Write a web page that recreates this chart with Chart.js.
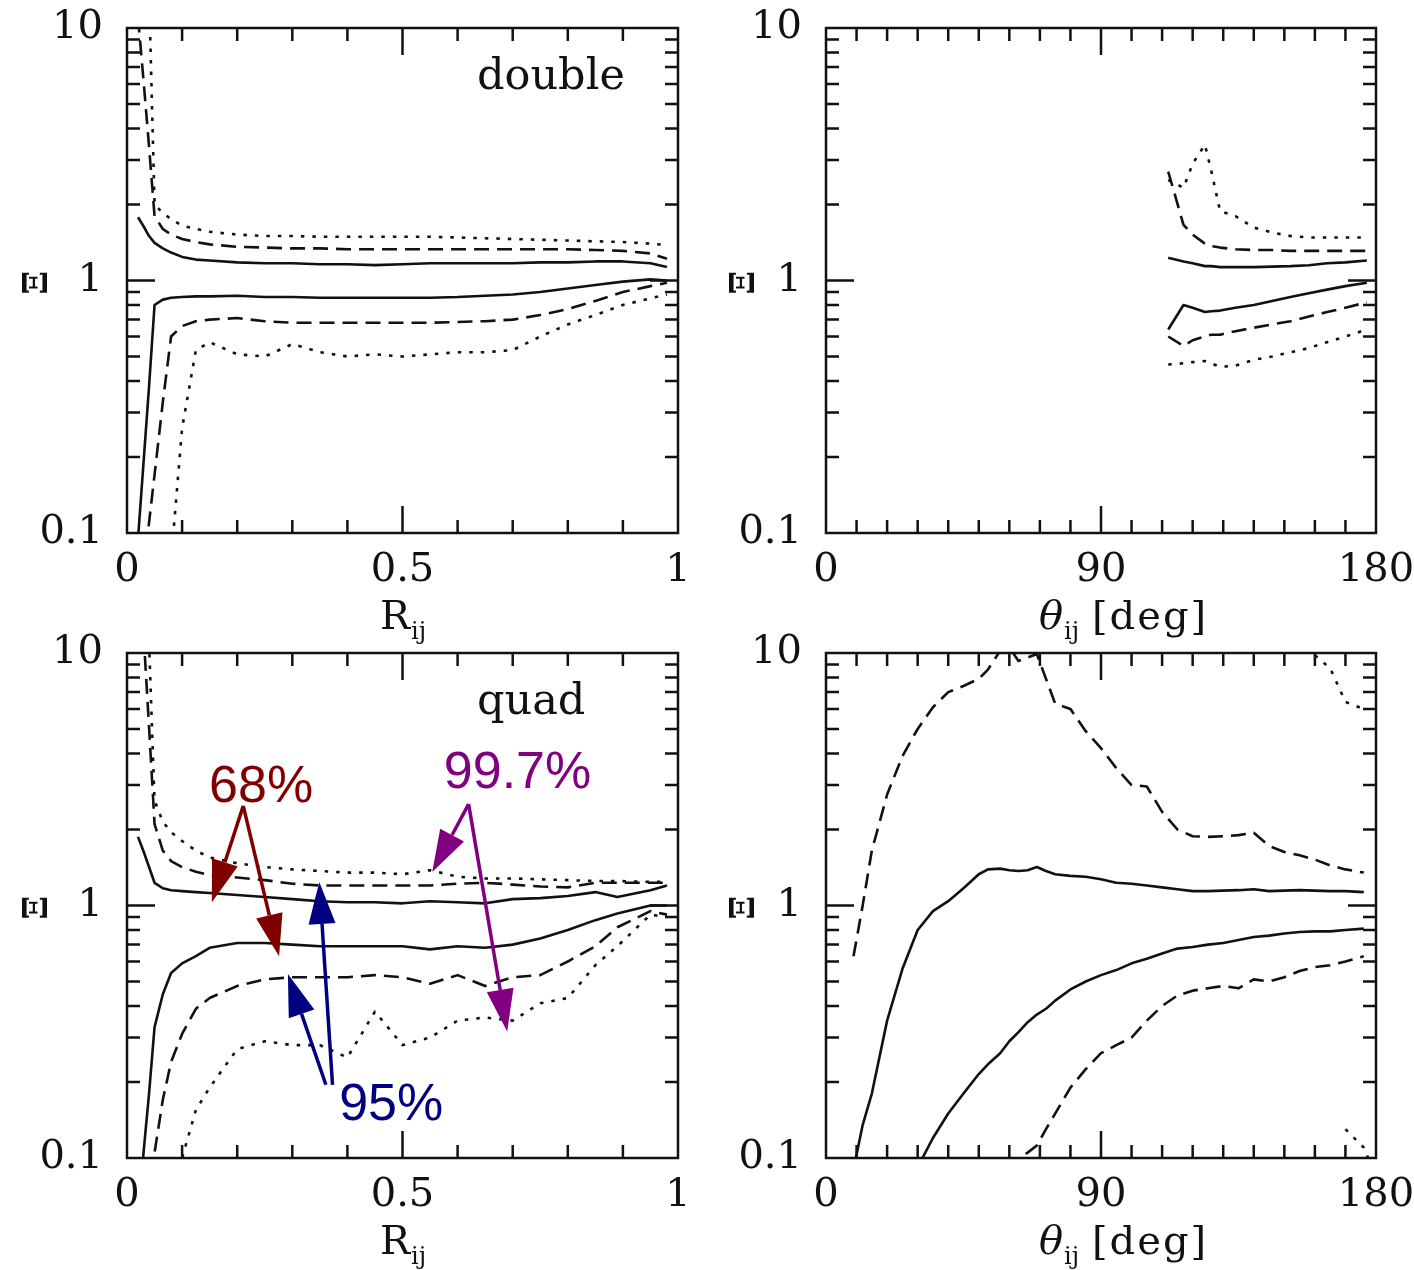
<!DOCTYPE html>
<html>
<head>
<meta charset="utf-8">
<script src="https://cdn.jsdelivr.net/npm/chart.js@4.4.0/dist/chart.umd.min.js"></script>
<style>
	body { margin: 0; background: #fff; width: 1414px; height: 1270px; position: relative; overflow: hidden; }
	canvas { position: absolute; }
</style>
</head>
<body>
<canvas id="duploR" width="707" height="660" style="left:0;top:0"></canvas>
<canvas id="duploT" width="707" height="660" style="left:707px;top:0"></canvas>
<canvas id="quadR" width="707" height="650" style="left:0;top:620px"></canvas>
<canvas id="quadT" width="707" height="650" style="left:707px;top:620px"></canvas>
<script>
// eixos x de cada painel
const rDouble = [0.02, 0.03, 0.04, 0.05, 0.065, 0.08, 0.1, 0.125, 0.15, 0.2, 0.25, 0.3, 0.35, 0.4, 0.45, 0.5, 0.55, 0.6, 0.65, 0.7, 0.75, 0.8, 0.85, 0.9, 0.95, 0.98];
const thDouble = [112, 117, 120, 124, 126, 129, 134, 140, 146, 152, 158, 164, 170, 177];
const rQuad = [0.02, 0.03, 0.04, 0.05, 0.065, 0.08, 0.1, 0.125, 0.15, 0.2, 0.25, 0.3, 0.35, 0.4, 0.45, 0.5, 0.55, 0.6, 0.65, 0.7, 0.75, 0.8, 0.85, 0.89, 0.95, 0.98];
const thQuad = [9, 12, 15, 20, 25, 30, 35, 40, 45, 50, 53, 57, 60, 63, 66, 69, 72, 75, 80, 85, 90, 95, 100, 105, 110, 115, 120, 125, 130, 135, 140, 145, 150, 155, 160, 165, 170, 176, 179];
const thQuad997hi = [155, 160, 165, 170, 176];
const thQuad997lo = [170, 176, 179];

// double, R_ij
const doubleR68hi = [1.78, 1.64, 1.5, 1.41, 1.34, 1.29, 1.24, 1.21, 1.2, 1.18, 1.17, 1.17, 1.16, 1.16, 1.15, 1.16, 1.17, 1.17, 1.17, 1.17, 1.18, 1.18, 1.19, 1.19, 1.17, 1.13];
const doubleR68lo = [0.095, 0.19, 0.38, 0.8, 0.84, 0.855, 0.86, 0.865, 0.865, 0.87, 0.86, 0.86, 0.855, 0.855, 0.855, 0.855, 0.855, 0.86, 0.87, 0.88, 0.9, 0.93, 0.96, 0.99, 1.01, 1.0];
const doubleR95hi = [11, 6.2, 3.4, 1.8, 1.6, 1.52, 1.46, 1.42, 1.39, 1.36, 1.35, 1.34, 1.34, 1.33, 1.33, 1.33, 1.33, 1.33, 1.33, 1.33, 1.33, 1.33, 1.32, 1.31, 1.28, 1.22];
const doubleR95lo = [null, 0.07, 0.11, 0.17, 0.33, 0.6, 0.66, 0.69, 0.7, 0.71, 0.69, 0.68, 0.68, 0.68, 0.68, 0.68, 0.68, 0.685, 0.69, 0.7, 0.73, 0.77, 0.83, 0.9, 0.95, 0.98];
const doubleR997hi = [null, null, 14, 2.0, 1.85, 1.75, 1.65, 1.6, 1.56, 1.52, 1.5, 1.5, 1.49, 1.49, 1.49, 1.49, 1.49, 1.48, 1.47, 1.46, 1.45, 1.44, 1.43, 1.42, 1.4, 1.38];
const doubleR997lo = [null, null, null, null, null, 0.078, 0.26, 0.53, 0.57, 0.51, 0.5, 0.56, 0.52, 0.5, 0.51, 0.5, 0.51, 0.52, 0.52, 0.53, 0.6, 0.67, 0.73, 0.8, 0.85, 0.88];

// double, theta_ij
const doubleT68hi = [1.23, 1.19, 1.17, 1.14, 1.14, 1.13, 1.13, 1.13, 1.135, 1.14, 1.15, 1.17, 1.18, 1.2];
const doubleT68lo = [0.64, 0.8, 0.78, 0.75, 0.755, 0.76, 0.78, 0.8, 0.83, 0.86, 0.89, 0.92, 0.95, 0.98];
const doubleT95hi = [2.7, 1.66, 1.52, 1.4, 1.37, 1.35, 1.33, 1.32, 1.32, 1.31, 1.31, 1.31, 1.31, 1.31];
const doubleT95lo = [0.6, 0.55, 0.58, 0.6, 0.61, 0.61, 0.63, 0.65, 0.67, 0.69, 0.72, 0.75, 0.78, 0.82];
const doubleT997hi = [2.5, 2.33, 2.9, 3.45, 2.75, 1.88, 1.8, 1.62, 1.55, 1.5, 1.48, 1.48, 1.48, 1.48];
const doubleT997lo = [0.465, 0.47, 0.475, 0.48, 0.47, 0.455, 0.46, 0.485, 0.5, 0.52, 0.54, 0.57, 0.6, 0.64];

// quad, R_ij
const quadR68hi = [1.87, 1.64, 1.42, 1.23, 1.17, 1.15, 1.14, 1.13, 1.12, 1.1, 1.08, 1.06, 1.04, 1.03, 1.03, 1.02, 1.04, 1.03, 1.02, 1.06, 1.07, 1.09, 1.13, 1.08, 1.15, 1.2];
const quadR68lo = [0.055, 0.105, 0.18, 0.33, 0.445, 0.54, 0.59, 0.63, 0.68, 0.71, 0.71, 0.7, 0.69, 0.69, 0.69, 0.69, 0.67, 0.69, 0.68, 0.7, 0.74, 0.8, 0.875, 0.93, 1.0, 1.0];
const quadR95hi = [null, 12, 5.1, 2.1, 1.65, 1.5, 1.42, 1.36, 1.32, 1.29, 1.26, 1.22, 1.2, 1.2, 1.2, 1.2, 1.2, 1.22, 1.23, 1.21, 1.19, 1.18, 1.23, 1.23, 1.23, 1.23];
const quadR95lo = [null, null, 0.07, 0.105, 0.17, 0.24, 0.31, 0.39, 0.43, 0.48, 0.51, 0.52, 0.52, 0.52, 0.53, 0.52, 0.49, 0.53, 0.48, 0.52, 0.53, 0.6, 0.69, 0.82, 0.95, 0.92];
const quadR997hi = [null, null, 11, 2.6, 2.15, 1.95, 1.8, 1.65, 1.55, 1.47, 1.42, 1.39, 1.37, 1.35, 1.35, 1.33, 1.38, 1.3, 1.28, 1.28, 1.27, 1.26, 1.25, 1.25, 1.24, 1.24];
const quadR997lo = [null, null, null, null, null, 0.06, 0.1, 0.155, 0.19, 0.27, 0.29, 0.28, 0.28, 0.25, 0.38, 0.28, 0.3, 0.35, 0.36, 0.35, 0.41, 0.43, 0.58, 0.69, 0.92, 0.9];

// quad, theta_ij
const quadT68hi = [0.09, 0.135, 0.18, 0.35, 0.56, 0.8, 0.95, 1.04, 1.17, 1.33, 1.39, 1.4, 1.38, 1.37, 1.38, 1.42, 1.37, 1.33, 1.31, 1.3, 1.27, 1.23, 1.22, 1.2, 1.18, 1.16, 1.14, 1.14, 1.145, 1.15, 1.16, 1.14, 1.145, 1.15, 1.145, 1.14, 1.14, 1.13, null];
const quadT68lo = [null, null, null, null, null, 0.092, 0.12, 0.15, 0.18, 0.215, 0.235, 0.26, 0.29, 0.315, 0.345, 0.37, 0.39, 0.42, 0.465, 0.5, 0.53, 0.555, 0.59, 0.615, 0.645, 0.675, 0.685, 0.7, 0.71, 0.73, 0.75, 0.76, 0.775, 0.785, 0.79, 0.79, 0.8, 0.81, null];
const quadT95hi = [0.63, 1.0, 1.65, 2.75, 3.9, 5.0, 6.1, 7.0, 7.4, 7.9, 8.6, 10.2, 10.5, 9.3, 9.6, 9.9, 7.9, 6.3, 6.0, 4.9, 4.2, 3.5, 3.0, 2.96, 2.35, 2.0, 1.88, 1.87, 1.88, 1.9, 1.94, 1.72, 1.63, 1.58, 1.52, 1.44, 1.39, 1.35, null];
const quadT95lo = [null, null, null, null, null, null, null, null, null, null, null, null, 0.09, 0.1, 0.105, 0.112, 0.13, 0.15, 0.19, 0.225, 0.26, 0.28, 0.3, 0.35, 0.4, 0.44, 0.46, 0.47, 0.48, 0.47, 0.51, 0.5, 0.52, 0.55, 0.57, 0.58, 0.6, 0.63, null];
const quadT997hi = [13, 9.8, 8.7, 6.4, 6.0];
const quadT997lo = [0.13, 0.11, 0.09];

// ticks e rotulos
const yTicks = [0.1, 1, 10];
const yMinor = [0.2, 0.3, 0.4, 0.5, 0.6, 0.7, 0.8, 0.9, 1, 2, 3, 4, 5, 6, 7, 8, 9];
const yMajor = [1];
const rTicks = [0, 0.5, 1];
const rMinor = [0.1, 0.2, 0.3, 0.4, 0.5, 0.6, 0.7, 0.8, 0.9];
const rMajor = [0.5];
const thTicks = [0, 90, 180];
const thMinor = [10, 20, 30, 40, 50, 60, 70, 80, 90, 100, 110, 120, 130, 140, 150, 160, 170];
const thMajor = [90];

const estilos = {
	solido: [],
	tracejado: [15, 8],
	pontilhado: [3.5, 8]
};

const fonteSerif = 'DejaVu Serif';
const tinta = '#111';

function seta(ctx, x0, y0, x1, y1, cor) {
	const ang = Math.atan2(y1 - y0, x1 - x0);
	const cab = 42, meia = 13.5;
	const bx = x1 - cab * Math.cos(ang);
	const by = y1 - cab * Math.sin(ang);
	ctx.strokeStyle = cor;
	ctx.fillStyle = cor;
	ctx.lineWidth = 3.5;
	ctx.beginPath();
	ctx.moveTo(x0, y0);
	ctx.lineTo(bx, by);
	ctx.stroke();
	ctx.beginPath();
	ctx.moveTo(x1, y1);
	ctx.lineTo(bx + meia * Math.sin(ang), by - meia * Math.cos(ang));
	ctx.lineTo(bx - meia * Math.sin(ang), by + meia * Math.cos(ang));
	ctx.closePath();
	ctx.fill();
}

// moldura com ticks para dentro, nos quatro lados
const moldura = {
	id: 'moldura',
	afterDatasetsDraw(chart, args, opts) {
		const { ctx, chartArea: a, scales: { x, y } } = chart;
		ctx.save();
		ctx.strokeStyle = tinta;
		ctx.lineWidth = 2.5;
		ctx.beginPath();
		opts.xMinor.forEach(v => {
			const px = x.getPixelForValue(v);
			const len = opts.xMajor.includes(v) ? 27 : 13;
			ctx.moveTo(px, a.bottom);
			ctx.lineTo(px, a.bottom - len);
			ctx.moveTo(px, a.top);
			ctx.lineTo(px, a.top + len);
		});
		yMinor.forEach(v => {
			const py = y.getPixelForValue(v);
			const len = yMajor.includes(v) ? 28 : 13;
			ctx.moveTo(a.left, py);
			ctx.lineTo(a.left + len, py);
			ctx.moveTo(a.right, py);
			ctx.lineTo(a.right - len, py);
		});
		ctx.stroke();
		ctx.strokeRect(a.left, a.top, a.right - a.left, a.bottom - a.top);
		ctx.restore();
	}
};

// textos: titulo do eixo x, rotulo do eixo y, nome do painel e anotacoes
const textos = {
	id: 'textos',
	afterDraw(chart, args, opts) {
		const { ctx, chartArea: a, scales: { x, y } } = chart;
		ctx.save();
		ctx.fillStyle = tinta;

		// eixo y: Xi deitado
		ctx.save();
		ctx.translate(38, y.getPixelForValue(1) + 2);
		ctx.rotate(-Math.PI / 2);
		ctx.font = 'bold 34px "' + fonteSerif + '"';
		ctx.textAlign = 'center';
		ctx.textBaseline = 'middle';
		ctx.fillText('Ξ', 0, 0);
		ctx.restore();

		// titulo do eixo x
		const meio = (a.left + a.right) / 2;
		const base = a.bottom + 96;
		ctx.textBaseline = 'alphabetic';
		ctx.textAlign = 'left';
		if (opts.eixo === 'R') {
			ctx.font = '40px "' + fonteSerif + '"';
			const w = ctx.measureText('R').width;
			ctx.font = '24px "' + fonteSerif + '"';
			const ws = ctx.measureText('ij').width;
			const x0 = meio - (w + ws) / 2;
			ctx.font = '40px "' + fonteSerif + '"';
			ctx.fillText('R', x0, base);
			ctx.font = '24px "' + fonteSerif + '"';
			ctx.fillText('ij', x0 + w + 1, base + 10);
		} else {
			const x0 = meio - 62;
			ctx.font = 'italic 40px "' + fonteSerif + '"';
			ctx.fillText('θ', x0, base);
			const w = ctx.measureText('θ').width;
			ctx.font = '24px "' + fonteSerif + '"';
			ctx.fillText('ij', x0 + w + 1, base + 10);
			ctx.font = '40px "' + fonteSerif + '"';
			ctx.letterSpacing = '2px';
			ctx.fillText('[deg]', x0 + 53, base);
			ctx.letterSpacing = '0px';
		}

		if (opts.nome) {
			ctx.font = '43px "' + fonteSerif + '"';
			ctx.fillText(opts.nome, a.left + 350, a.top + 61);
		}

		(opts.notas || []).forEach(n => {
			ctx.font = '52px "Liberation Sans"';
			ctx.fillStyle = n.cor;
			ctx.fillText(n.texto, x.getPixelForValue(n.pos[0]), y.getPixelForValue(n.pos[1]));
			n.setas.forEach(s => {
				seta(ctx, x.getPixelForValue(s[0]), y.getPixelForValue(s[1]),
					x.getPixelForValue(s[2]), y.getPixelForValue(s[3]), n.cor);
			});
		});
		ctx.restore();
	}
};

function serie(xs, ys, estilo) {
	return {
		data: xs.map((x, i) => ({ x: x, y: ys[i] })),
		showLine: true,
		borderColor: tinta,
		borderWidth: 2.6,
		borderDash: estilos[estilo],
		borderJoinStyle: 'round',
		pointRadius: 0,
		spanGaps: false,
		clip: 0
	};
}

function criarPainel(id, cfg) {
	const canvas = document.getElementById(id);
	return new Chart(canvas, {
		type: 'scatter',
		data: { datasets: cfg.series },
		options: {
			responsive: false,
			animation: false,
			events: [],
			layout: { padding: { top: cfg.area.top, right: canvas.width - cfg.area.right, left: 0, bottom: 0 } },
			plugins: {
				legend: { display: false },
				tooltip: { enabled: false },
				moldura: { xMinor: cfg.xMinor, xMajor: cfg.xMajor },
				textos: { eixo: cfg.eixo, nome: cfg.nome, notas: cfg.notas }
			},
			scales: {
				x: {
					type: 'linear',
					min: cfg.xMin,
					max: cfg.xMax,
					grid: { display: false, drawTicks: false },
					border: { display: false },
					afterBuildTicks: s => { s.ticks = cfg.xTicks.map(v => ({ value: v })); },
					afterFit: s => {
						s.height = canvas.height - cfg.area.bottom;
						s.paddingLeft = 0;
						s.paddingRight = 0;
					},
					ticks: {
						callback: v => String(v),
						font: { family: fonteSerif, size: 40 },
						color: tinta,
						padding: 14,
						maxRotation: 0,
						autoSkip: false
					}
				},
				y: {
					type: 'logarithmic',
					min: 0.1,
					max: 10,
					grid: { display: false, drawTicks: false },
					border: { display: false },
					afterBuildTicks: s => { s.ticks = yTicks.map(v => ({ value: v })); },
					afterFit: s => {
						s.width = cfg.area.left;
						s.paddingTop = 0;
						s.paddingBottom = 0;
					},
					ticks: {
						callback: v => String(v),
						font: { family: fonteSerif, size: 40 },
						color: tinta,
						padding: 24,
						autoSkip: false
					}
				}
			}
		},
		plugins: [moldura, textos]
	});
}

criarPainel('duploR', {
	area: { left: 127, top: 28, right: 678, bottom: 533 },
	xMin: 0, xMax: 1, xTicks: rTicks, xMinor: rMinor, xMajor: rMajor,
	eixo: 'R', nome: 'double',
	series: [
		serie(rDouble, doubleR68hi, 'solido'),
		serie(rDouble, doubleR68lo, 'solido'),
		serie(rDouble, doubleR95hi, 'tracejado'),
		serie(rDouble, doubleR95lo, 'tracejado'),
		serie(rDouble, doubleR997hi, 'pontilhado'),
		serie(rDouble, doubleR997lo, 'pontilhado')
	]
});

criarPainel('duploT', {
	area: { left: 119, top: 28, right: 669, bottom: 533 },
	xMin: 0, xMax: 180, xTicks: thTicks, xMinor: thMinor, xMajor: thMajor,
	eixo: 'theta',
	series: [
		serie(thDouble, doubleT68hi, 'solido'),
		serie(thDouble, doubleT68lo, 'solido'),
		serie(thDouble, doubleT95hi, 'tracejado'),
		serie(thDouble, doubleT95lo, 'tracejado'),
		serie(thDouble, doubleT997hi, 'pontilhado'),
		serie(thDouble, doubleT997lo, 'pontilhado')
	]
});

criarPainel('quadR', {
	area: { left: 127, top: 33, right: 678, bottom: 538 },
	xMin: 0, xMax: 1, xTicks: rTicks, xMinor: rMinor, xMajor: rMajor,
	eixo: 'R', nome: 'quad',
	notas: [
		{ texto: '68%', cor: '#800000', pos: [0.149, 2.57], setas: [[0.211, 2.48, 0.154, 1.03], [0.211, 2.48, 0.276, 0.63]] },
		{ texto: '99.7%', cor: '#800080', pos: [0.575, 2.92], setas: [[0.62, 2.52, 0.554, 1.357], [0.62, 2.52, 0.69, 0.317]] },
		{ texto: '95%', cor: '#000080', pos: [0.385, 0.141], setas: [[0.373, 0.195, 0.349, 1.24], [0.361, 0.195, 0.292, 0.535]] }
	],
	series: [
		serie(rQuad, quadR68hi, 'solido'),
		serie(rQuad, quadR68lo, 'solido'),
		serie(rQuad, quadR95hi, 'tracejado'),
		serie(rQuad, quadR95lo, 'tracejado'),
		serie(rQuad, quadR997hi, 'pontilhado'),
		serie(rQuad, quadR997lo, 'pontilhado')
	]
});

criarPainel('quadT', {
	area: { left: 119, top: 33, right: 669, bottom: 538 },
	xMin: 0, xMax: 180, xTicks: thTicks, xMinor: thMinor, xMajor: thMajor,
	eixo: 'theta',
	series: [
		serie(thQuad, quadT68hi, 'solido'),
		serie(thQuad, quadT68lo, 'solido'),
		serie(thQuad, quadT95hi, 'tracejado'),
		serie(thQuad, quadT95lo, 'tracejado'),
		serie(thQuad997hi, quadT997hi, 'pontilhado'),
		serie(thQuad997lo, quadT997lo, 'pontilhado')
	]
});
</script>
</body>
</html>
